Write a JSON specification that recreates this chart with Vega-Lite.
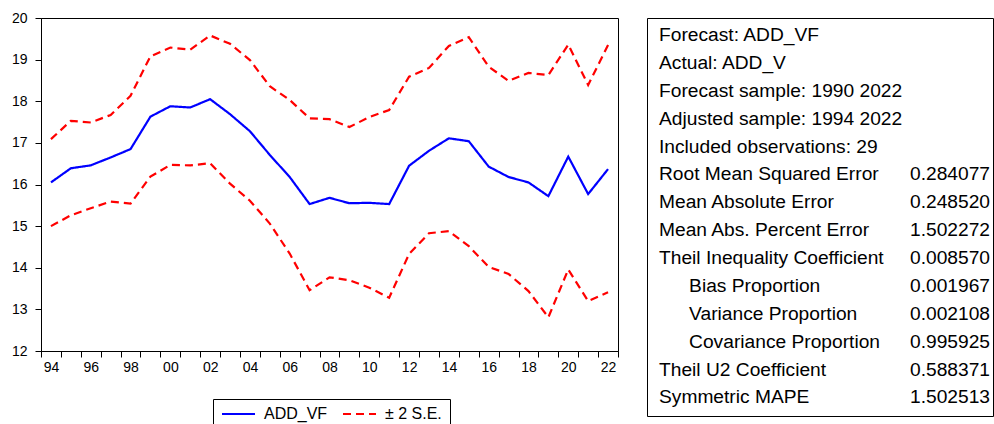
{
  "$schema": "https://vega.github.io/schema/vega-lite/v6.json",
  "padding": {"left": 10, "top": 10, "right": 2, "bottom": 0},
  "background": "white",
  "config": {
    "font": "Liberation Sans",
    "view": {"stroke": "#000", "strokeWidth": 1},
    "axis": {"grid": false, "domainColor": "#000", "tickColor": "#000", "labelColor": "#000", "labelFont": "Liberation Sans", "labelFontSize": 14, "tickSize": 6}
  },
  "spacing": 29,
  "bounds": "flush",
  "hconcat": [
    {
      "width": 577,
      "height": 333,
      "data": {"values": [
        {"year":1994,"series":"ADD_VF","bound":"forecast","value":16.05},
        {"year":1995,"series":"ADD_VF","bound":"forecast","value":16.39},
        {"year":1996,"series":"ADD_VF","bound":"forecast","value":16.46},
        {"year":1997,"series":"ADD_VF","bound":"forecast","value":16.65},
        {"year":1998,"series":"ADD_VF","bound":"forecast","value":16.85},
        {"year":1999,"series":"ADD_VF","bound":"forecast","value":17.63},
        {"year":2000,"series":"ADD_VF","bound":"forecast","value":17.88},
        {"year":2001,"series":"ADD_VF","bound":"forecast","value":17.85},
        {"year":2002,"series":"ADD_VF","bound":"forecast","value":18.05},
        {"year":2003,"series":"ADD_VF","bound":"forecast","value":17.69},
        {"year":2004,"series":"ADD_VF","bound":"forecast","value":17.28},
        {"year":2005,"series":"ADD_VF","bound":"forecast","value":16.71},
        {"year":2006,"series":"ADD_VF","bound":"forecast","value":16.18},
        {"year":2007,"series":"ADD_VF","bound":"forecast","value":15.53},
        {"year":2008,"series":"ADD_VF","bound":"forecast","value":15.68},
        {"year":2009,"series":"ADD_VF","bound":"forecast","value":15.55},
        {"year":2010,"series":"ADD_VF","bound":"forecast","value":15.56},
        {"year":2011,"series":"ADD_VF","bound":"forecast","value":15.53},
        {"year":2012,"series":"ADD_VF","bound":"forecast","value":16.45},
        {"year":2013,"series":"ADD_VF","bound":"forecast","value":16.81},
        {"year":2014,"series":"ADD_VF","bound":"forecast","value":17.11},
        {"year":2015,"series":"ADD_VF","bound":"forecast","value":17.04},
        {"year":2016,"series":"ADD_VF","bound":"forecast","value":16.43},
        {"year":2017,"series":"ADD_VF","bound":"forecast","value":16.18},
        {"year":2018,"series":"ADD_VF","bound":"forecast","value":16.05},
        {"year":2019,"series":"ADD_VF","bound":"forecast","value":15.72},
        {"year":2020,"series":"ADD_VF","bound":"forecast","value":16.67},
        {"year":2021,"series":"ADD_VF","bound":"forecast","value":15.77},
        {"year":2022,"series":"ADD_VF","bound":"forecast","value":16.37},
        {"year":1994,"series":"± 2 S.E.","bound":"upper","value":17.09},
        {"year":1995,"series":"± 2 S.E.","bound":"upper","value":17.53},
        {"year":1996,"series":"± 2 S.E.","bound":"upper","value":17.49},
        {"year":1997,"series":"± 2 S.E.","bound":"upper","value":17.67},
        {"year":1998,"series":"± 2 S.E.","bound":"upper","value":18.13},
        {"year":1999,"series":"± 2 S.E.","bound":"upper","value":19.08},
        {"year":2000,"series":"± 2 S.E.","bound":"upper","value":19.29},
        {"year":2001,"series":"± 2 S.E.","bound":"upper","value":19.24},
        {"year":2002,"series":"± 2 S.E.","bound":"upper","value":19.58},
        {"year":2003,"series":"± 2 S.E.","bound":"upper","value":19.38},
        {"year":2004,"series":"± 2 S.E.","bound":"upper","value":18.99},
        {"year":2005,"series":"± 2 S.E.","bound":"upper","value":18.36},
        {"year":2006,"series":"± 2 S.E.","bound":"upper","value":18.03},
        {"year":2007,"series":"± 2 S.E.","bound":"upper","value":17.59},
        {"year":2008,"series":"± 2 S.E.","bound":"upper","value":17.57},
        {"year":2009,"series":"± 2 S.E.","bound":"upper","value":17.38},
        {"year":2010,"series":"± 2 S.E.","bound":"upper","value":17.62},
        {"year":2011,"series":"± 2 S.E.","bound":"upper","value":17.79},
        {"year":2012,"series":"± 2 S.E.","bound":"upper","value":18.59},
        {"year":2013,"series":"± 2 S.E.","bound":"upper","value":18.80},
        {"year":2014,"series":"± 2 S.E.","bound":"upper","value":19.33},
        {"year":2015,"series":"± 2 S.E.","bound":"upper","value":19.54},
        {"year":2016,"series":"± 2 S.E.","bound":"upper","value":18.83},
        {"year":2017,"series":"± 2 S.E.","bound":"upper","value":18.49},
        {"year":2018,"series":"± 2 S.E.","bound":"upper","value":18.68},
        {"year":2019,"series":"± 2 S.E.","bound":"upper","value":18.63},
        {"year":2020,"series":"± 2 S.E.","bound":"upper","value":19.36},
        {"year":2021,"series":"± 2 S.E.","bound":"upper","value":18.39},
        {"year":2022,"series":"± 2 S.E.","bound":"upper","value":19.35},
        {"year":1994,"series":"± 2 S.E.","bound":"lower","value":15.00},
        {"year":1995,"series":"± 2 S.E.","bound":"lower","value":15.26},
        {"year":1996,"series":"± 2 S.E.","bound":"lower","value":15.43},
        {"year":1997,"series":"± 2 S.E.","bound":"lower","value":15.59},
        {"year":1998,"series":"± 2 S.E.","bound":"lower","value":15.54},
        {"year":1999,"series":"± 2 S.E.","bound":"lower","value":16.19},
        {"year":2000,"series":"± 2 S.E.","bound":"lower","value":16.47},
        {"year":2001,"series":"± 2 S.E.","bound":"lower","value":16.46},
        {"year":2002,"series":"± 2 S.E.","bound":"lower","value":16.51},
        {"year":2003,"series":"± 2 S.E.","bound":"lower","value":16.02},
        {"year":2004,"series":"± 2 S.E.","bound":"lower","value":15.61},
        {"year":2005,"series":"± 2 S.E.","bound":"lower","value":15.06},
        {"year":2006,"series":"± 2 S.E.","bound":"lower","value":14.34},
        {"year":2007,"series":"± 2 S.E.","bound":"lower","value":13.46},
        {"year":2008,"series":"± 2 S.E.","bound":"lower","value":13.77},
        {"year":2009,"series":"± 2 S.E.","bound":"lower","value":13.70},
        {"year":2010,"series":"± 2 S.E.","bound":"lower","value":13.52},
        {"year":2011,"series":"± 2 S.E.","bound":"lower","value":13.28},
        {"year":2012,"series":"± 2 S.E.","bound":"lower","value":14.33},
        {"year":2013,"series":"± 2 S.E.","bound":"lower","value":14.83},
        {"year":2014,"series":"± 2 S.E.","bound":"lower","value":14.88},
        {"year":2015,"series":"± 2 S.E.","bound":"lower","value":14.52},
        {"year":2016,"series":"± 2 S.E.","bound":"lower","value":14.02},
        {"year":2017,"series":"± 2 S.E.","bound":"lower","value":13.85},
        {"year":2018,"series":"± 2 S.E.","bound":"lower","value":13.44},
        {"year":2019,"series":"± 2 S.E.","bound":"lower","value":12.81},
        {"year":2020,"series":"± 2 S.E.","bound":"lower","value":13.96},
        {"year":2021,"series":"± 2 S.E.","bound":"lower","value":13.20},
        {"year":2022,"series":"± 2 S.E.","bound":"lower","value":13.41}
      ]},
      "mark": {"type": "line", "strokeWidth": 2.2},
      "encoding": {
        "x": {
          "field": "year", "type": "quantitative",
          "scale": {"domain": [1993.5, 2022.5], "nice": false, "zero": false},
          "axis": {
            "title": null,
            "values": [1993.5,1994.5,1995.5,1996.5,1997.5,1998.5,1999.5,2000.5,2001.5,2002.5,2003.5,2004.5,2005.5,2006.5,2007.5,2008.5,2009.5,2010.5,2011.5,2012.5,2013.5,2014.5,2015.5,2016.5,2017.5,2018.5,2019.5,2020.5,2021.5,2022.5],
            "labelExpr": "(datum.value + 0.5) % 2 == 0 ? slice(toString(datum.value + 0.5), 2) : ''",
            "labelOffset": 10,
            "labelPadding": 3,
            "labelOverlap": false,
            "labelFlush": false
          }
        },
        "y": {
          "field": "value", "type": "quantitative",
          "scale": {"domain": [12, 20], "nice": false, "zero": false},
          "axis": {"title": null, "values": [12,13,14,15,16,17,18,19,20], "labelPadding": 8}
        },
        "color": {
          "field": "series", "type": "nominal",
          "scale": {"domain": ["ADD_VF", "± 2 S.E."], "range": ["#0000FF", "#FF0000"]},
          "legend": {"title": null, "orient": "none", "legendX": 172, "legendY": 381, "direction": "horizontal", "symbolType": "stroke", "symbolSize": 1089, "symbolStrokeWidth": 2, "clipHeight": 14, "padding": 8, "labelFontSize": 16, "labelFont": "Liberation Sans", "labelColor": "#000", "labelOffset": 8, "columnPadding": 14, "strokeColor": "#000", "fillColor": "#fff"}
        },
        "strokeDash": {
          "field": "series", "type": "nominal",
          "scale": {"domain": ["ADD_VF", "± 2 S.E."], "range": [[1, 0], [8, 5]]},
          "legend": {"title": null, "orient": "none", "legendX": 172, "legendY": 381, "direction": "horizontal", "symbolType": "stroke", "symbolSize": 1089, "symbolStrokeWidth": 2, "clipHeight": 14, "padding": 8, "labelFontSize": 16, "labelFont": "Liberation Sans", "labelColor": "#000", "labelOffset": 8, "columnPadding": 14, "strokeColor": "#000", "fillColor": "#fff"}
        },
        "detail": {"field": "bound", "type": "nominal"}
      }
    },
    {
      "width": 346,
      "height": 398,
      "data": {"values": [
        {"row": 0, "level": 0, "label": "Forecast: ADD_VF"},
        {"row": 1, "level": 0, "label": "Actual: ADD_V"},
        {"row": 2, "level": 0, "label": "Forecast sample: 1990 2022"},
        {"row": 3, "level": 0, "label": "Adjusted sample: 1994 2022"},
        {"row": 4, "level": 0, "label": "Included observations: 29"},
        {"row": 5, "level": 0, "label": "Root Mean Squared Error", "value": 0.284077},
        {"row": 6, "level": 0, "label": "Mean Absolute Error", "value": 0.248520},
        {"row": 7, "level": 0, "label": "Mean Abs. Percent Error", "value": 1.502272},
        {"row": 8, "level": 0, "label": "Theil Inequality Coefficient", "value": 0.008570},
        {"row": 9, "level": 1, "label": "Bias Proportion", "value": 0.001967},
        {"row": 10, "level": 1, "label": "Variance Proportion", "value": 0.002108},
        {"row": 11, "level": 1, "label": "Covariance Proportion", "value": 0.995925},
        {"row": 12, "level": 0, "label": "Theil U2 Coefficient", "value": 0.588371},
        {"row": 13, "level": 0, "label": "Symmetric MAPE", "value": 1.502513}
      ]},
      "layer": [
        {
          "mark": {"type": "text", "align": "left", "baseline": "middle", "fontSize": 19.2, "font": "Liberation Sans", "color": "#000"},
          "encoding": {
            "x": {"field": "level", "type": "quantitative", "scale": {"domain": [0, 11], "range": [12, 343], "nice": false, "zero": false}, "axis": null},
            "y": {"field": "row", "type": "quantitative", "scale": {"domain": [-0.61, 13.666], "reverse": true, "nice": false, "zero": false}, "axis": null},
            "text": {"field": "label"}
          }
        },
        {
          "transform": [{"filter": "isValid(datum.value)"}],
          "mark": {"type": "text", "align": "right", "baseline": "middle", "fontSize": 19.2, "font": "Liberation Sans", "color": "#000"},
          "encoding": {
            "x": {"datum": 11, "type": "quantitative", "scale": {"domain": [0, 11], "range": [12, 343], "nice": false, "zero": false}, "axis": null},
            "y": {"field": "row", "type": "quantitative", "scale": {"domain": [-0.61, 13.666], "reverse": true, "nice": false, "zero": false}, "axis": null},
            "text": {"field": "value", "format": ".6f"}
          }
        }
      ]
    }
  ]
}
